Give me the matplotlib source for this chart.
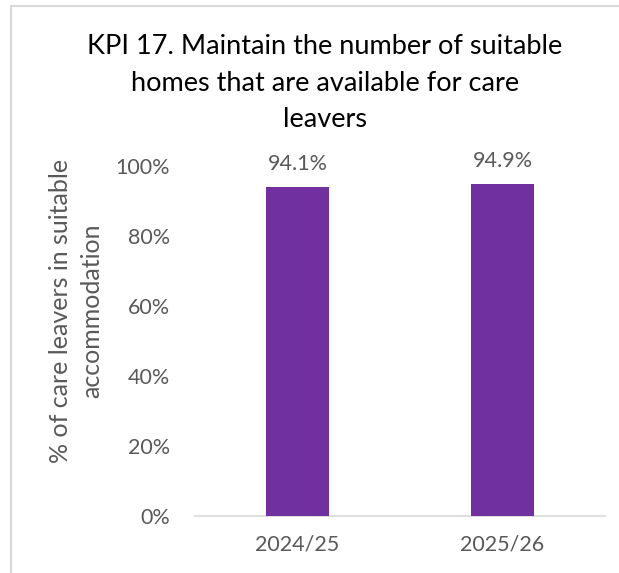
import matplotlib.pyplot as plt
from matplotlib.patches import Rectangle
from matplotlib.ticker import PercentFormatter

YEARS = ["2024/25", "2025/26"]
SUITABLE = [0.941, 0.949]
VALUE_LABELS = ["94.1%", "94.9%"]
YTICKS = [0, 0.2, 0.4, 0.6, 0.8, 1.0]

BAR_COLOR = "#7030A0"
TEXT_GRAY = "#595959"

plt.rcParams["font.family"] = ["Lato", "DejaVu Sans"]

W, H = 619, 573
fig = plt.figure(figsize=(W / 100, H / 100), dpi=100)

# chart frame, clipped on right and bottom
fig.patches.append(Rectangle((11 / W, -0.1), 1.2, 1 - 6 / H + 0.1,
                             transform=fig.transFigure, fill=False,
                             edgecolor="#d9d9d9", linewidth=1.5))

ax = fig.add_axes([195 / W, 1 - 516 / H, (605 - 195) / W, (516 - 166) / H])

x = range(len(YEARS))
bars = ax.bar(x, SUITABLE, width=0.31, color=BAR_COLOR, zorder=3)
for b, lab in zip(bars, VALUE_LABELS):
    ax.annotate(lab, (b.get_x() + b.get_width() / 2, b.get_height()),
                xytext=(0, 9), textcoords="offset points",
                ha="center", va="bottom", fontsize=15.5, color=TEXT_GRAY)

ax.set_xlim(-0.5, 1.5)
ax.set_ylim(0, 1)
ax.set_yticks(YTICKS)
ax.yaxis.set_major_formatter(PercentFormatter(1.0, decimals=0))
ax.set_xticks(list(x))
ax.set_xticklabels(YEARS)
ax.tick_params(axis="both", length=0, labelsize=15.5, labelcolor=TEXT_GRAY)
ax.tick_params(axis="y", pad=18)
ax.tick_params(axis="x", pad=13)

for s in ["top", "right", "left"]:
    ax.spines[s].set_visible(False)
ax.spines["bottom"].set_color("#d9d9d9")
ax.spines["bottom"].set_linewidth(1.2)

ax.set_ylabel("% of care leavers in suitable\naccommodation", fontsize=18,
              color=TEXT_GRAY, linespacing=1.4)
ax.yaxis.set_label_coords(-0.225, 0.586)

fig.text(325 / W, 1 - 34 / H,
         "KPI 17. Maintain the number of suitable\nhomes that are available for care\nleavers",
         ha="center", va="top", fontsize=19.5, color="black", linespacing=1.58)

fig.savefig("out.png", dpi=100)
